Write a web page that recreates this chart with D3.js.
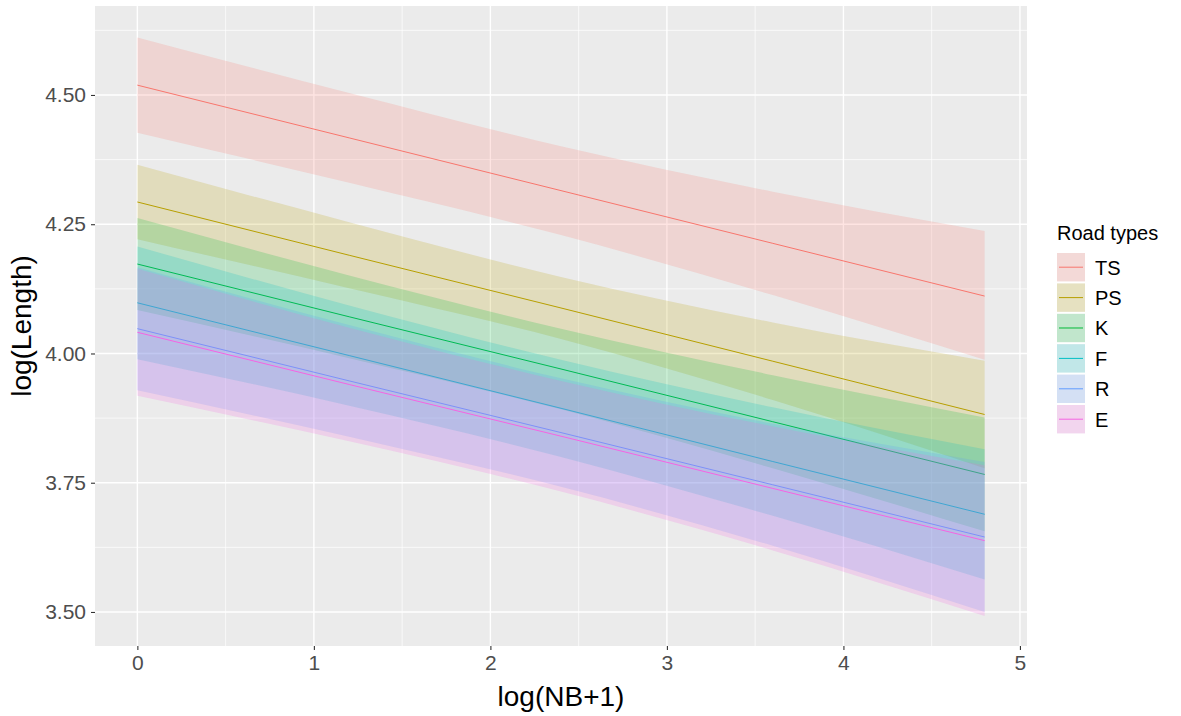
<!DOCTYPE html>
<html>
<head>
<meta charset="utf-8">
<title>log(Length) vs log(NB+1)</title>
<script src="https://d3js.org/d3.v7.min.js"></script>
<style>
  body { margin: 0; background: #fff; }
  text { font-family: "Liberation Sans", Arial, sans-serif; }
</style>
</head>
<body>
<svg id="chart"></svg>
<script>
// values (fit line and ribbon at a few x positions)
var xs = [0, 1.2, 2.4, 3.6, 4.8];
var roadTypes = ["TS", "PS", "K", "F", "R", "E"];
var colours = ["#F8766D", "#B79F00", "#00BA38", "#00BFC4", "#619CFF", "#F564E3"];

var ts_fit = [4.519, 4.417, 4.315, 4.213, 4.111];
var ts_hi  = [4.611, 4.504, 4.401, 4.313, 4.237];
var ts_lo  = [4.427, 4.330, 4.229, 4.113, 3.988];

var ps_fit = [4.293, 4.190, 4.088, 3.985, 3.882];
var ps_hi  = [4.365, 4.254, 4.148, 4.060, 3.986];
var ps_lo  = [4.221, 4.126, 4.028, 3.910, 3.778];

var k_fit  = [4.173, 4.071, 3.970, 3.868, 3.766];
var k_hi   = [4.262, 4.151, 4.048, 3.958, 3.876];
var k_lo   = [4.084, 3.991, 3.892, 3.778, 3.656];

var f_fit  = [4.098, 3.996, 3.894, 3.791, 3.689];
var f_hi   = [4.207, 4.093, 3.988, 3.896, 3.815];
var f_lo   = [3.989, 3.899, 3.800, 3.686, 3.563];

var r_fit  = [4.048, 3.947, 3.847, 3.746, 3.645];
var r_hi   = [4.167, 4.055, 3.952, 3.864, 3.790];
var r_lo   = [3.929, 3.839, 3.742, 3.628, 3.500];

var e_fit  = [4.041, 3.940, 3.840, 3.739, 3.638];
var e_hi   = [4.164, 4.050, 3.947, 3.859, 3.784];
var e_lo   = [3.918, 3.830, 3.733, 3.619, 3.492];

var xTicks = [0, 1, 2, 3, 4, 5];
var yTicks = [3.50, 3.75, 4.00, 4.25, 4.50];

var fits = [ts_fit, ps_fit, k_fit, f_fit, r_fit, e_fit];
var his  = [ts_hi, ps_hi, k_hi, f_hi, r_hi, e_hi];
var los  = [ts_lo, ps_lo, k_lo, f_lo, r_lo, e_lo];

var series = roadTypes.map(function(name, i) {
  return {
    name: name,
    colour: colours[i],
    pts: xs.map(function(x, j) { return { x: x, fit: fits[i][j], hi: his[i][j], lo: los[i][j] }; })
  };
});

var W = 1181, H = 716;
var panel = { left: 95, right: 1027, top: 6, bottom: 646 };

var svg = d3.select("#chart").attr("width", W).attr("height", H);
svg.append("rect").attr("width", W).attr("height", H).attr("fill", "#fff");

var x = d3.scaleLinear().domain([-0.24, 5.04]).range([panel.left, panel.right]);
var y = d3.scaleLinear().domain([3.4342, 4.6721]).range([panel.bottom, panel.top]);

// panel background
svg.append("rect")
  .attr("x", panel.left).attr("y", panel.top)
  .attr("width", panel.right - panel.left).attr("height", panel.bottom - panel.top)
  .attr("fill", "#EBEBEB");

// grid, minor then major
var g = svg.append("g");
var xMinor = [0.5, 1.5, 2.5, 3.5, 4.5];
var yMinor = [3.625, 3.875, 4.125, 4.375, 4.625];
g.selectAll(".xmin").data(xMinor).enter().append("line")
  .attr("x1", d => x(d)).attr("x2", d => x(d)).attr("y1", panel.top).attr("y2", panel.bottom)
  .attr("stroke", "#fff").attr("stroke-width", 0.7);
g.selectAll(".ymin").data(yMinor).enter().append("line")
  .attr("y1", d => y(d)).attr("y2", d => y(d)).attr("x1", panel.left).attr("x2", panel.right)
  .attr("stroke", "#fff").attr("stroke-width", 0.7);
g.selectAll(".xmaj").data(xTicks).enter().append("line")
  .attr("x1", d => x(d)).attr("x2", d => x(d)).attr("y1", panel.top).attr("y2", panel.bottom)
  .attr("stroke", "#fff").attr("stroke-width", 1.4);
g.selectAll(".ymaj").data(yTicks).enter().append("line")
  .attr("y1", d => y(d)).attr("y2", d => y(d)).attr("x1", panel.left).attr("x2", panel.right)
  .attr("stroke", "#fff").attr("stroke-width", 1.4);

// ribbons and lines, one group at a time like geom_smooth
var area = d3.area()
  .x(d => x(d.x)).y0(d => y(d.lo)).y1(d => y(d.hi))
  .curve(d3.curveMonotoneX);
var line = d3.line().x(d => x(d.x)).y(d => y(d.fit));

series.forEach(function(s) {
  svg.append("path").datum(s.pts)
    .attr("d", area).attr("fill", s.colour).attr("fill-opacity", 0.2);
  svg.append("path").datum(s.pts)
    .attr("d", line).attr("fill", "none").attr("stroke", s.colour).attr("stroke-width", 1);
});

// axes
var xAxis = svg.append("g")
  .attr("transform", "translate(0," + panel.bottom + ")")
  .call(d3.axisBottom(x).tickValues(xTicks).tickSize(4).tickPadding(5).tickFormat(d3.format("d")));
var yAxis = svg.append("g")
  .attr("transform", "translate(" + panel.left + ",0)")
  .call(d3.axisLeft(y).tickValues(yTicks).tickSize(4).tickPadding(5).tickFormat(d3.format(".2f")));

[xAxis, yAxis].forEach(function(a) {
  a.select(".domain").remove();
  a.selectAll(".tick line").attr("stroke", "#333333").attr("stroke-width", 1.1);
  a.selectAll(".tick text").attr("fill", "#4D4D4D").style("font-size", "21px")
    .style("font-family", "'Liberation Sans', Arial, sans-serif");
});

svg.append("text")
  .attr("x", (panel.left + panel.right) / 2).attr("y", 706)
  .attr("text-anchor", "middle").style("font-size", "28px").attr("fill", "#000")
  .text("log(NB+1)");

svg.append("text")
  .attr("transform", "translate(31," + ((panel.top + panel.bottom) / 2) + ") rotate(-90)")
  .attr("text-anchor", "middle").style("font-size", "28px").attr("fill", "#000")
  .text("log(Length)");

// legend
var leg = svg.append("g").attr("transform", "translate(1057,0)");
leg.append("text").attr("x", 0).attr("y", 240)
  .style("font-size", "20px").attr("fill", "#000").text("Road types");

var keyH = 30.4, key0 = 253;
var keys = leg.selectAll(".key").data(series).enter().append("g")
  .attr("transform", (d, i) => "translate(0," + (key0 + i * keyH) + ")");
keys.append("rect").attr("width", 28).attr("height", 28.4).attr("fill", "#F2F2F2");
keys.append("rect").attr("width", 28).attr("height", 28.4)
  .attr("fill", d => d.colour).attr("fill-opacity", 0.2);
keys.append("line").attr("x1", 2).attr("x2", 26).attr("y1", 14.2).attr("y2", 14.2)
  .attr("stroke", d => d.colour).attr("stroke-width", 1);
keys.append("text").attr("x", 38).attr("y", 21.5)
  .style("font-size", "20px").attr("fill", "#000").text(d => d.name);
</script>
</body>
</html>
